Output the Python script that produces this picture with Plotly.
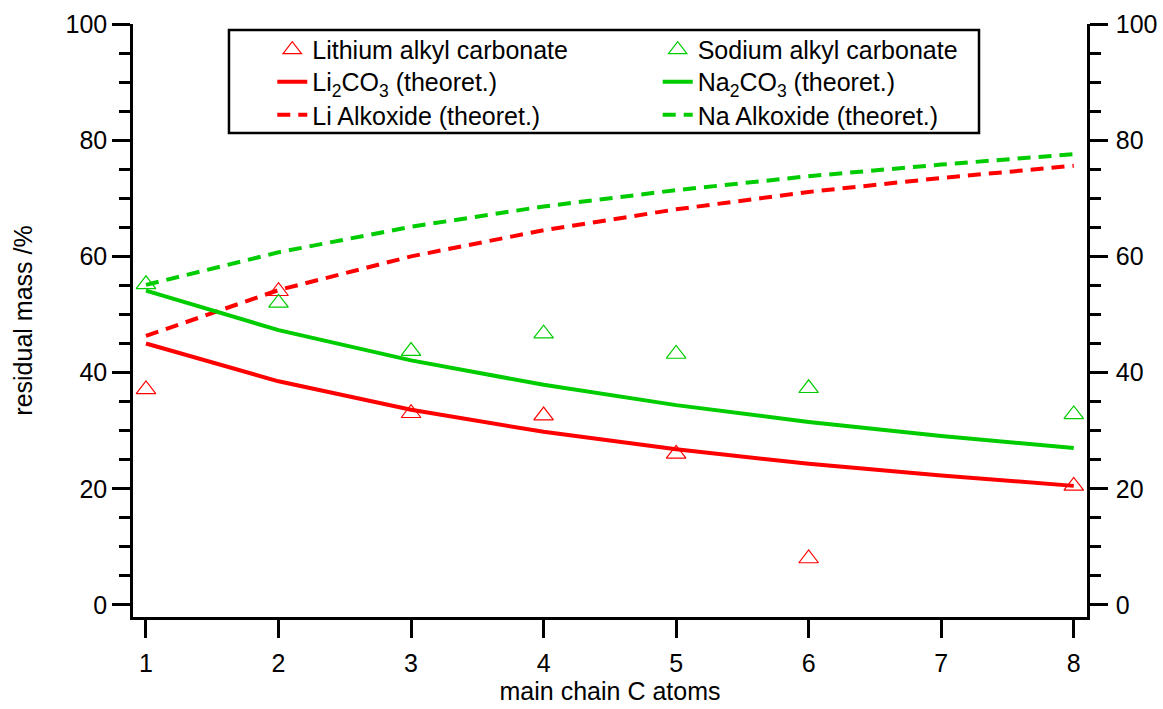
import plotly.graph_objects as go

# ---- data ----
x_meas = [1, 2, 3, 4, 5, 6, 8]
li_alkyl_carbonate = [37.1, 54.0, 33.0, 32.6, 26.0, 8.0, 20.5]
na_alkyl_carbonate = [55.2, 52.0, 43.7, 46.7, 43.2, 37.3, 32.8]

x_theo = [1, 2, 3, 4, 5, 6, 7, 8]
li2co3_theo = [45.0, 38.5, 33.6, 29.8, 26.8, 24.3, 22.3, 20.5]
na2co3_theo = [54.1, 47.3, 42.1, 37.9, 34.4, 31.5, 29.1, 27.0]
li_alkoxide_theo = [46.3, 54.2, 60.0, 64.5, 68.1, 71.1, 73.5, 75.6]
na_alkoxide_theo = [55.1, 60.7, 65.1, 68.6, 71.4, 73.8, 75.8, 77.6]

x_ticks = [1, 2, 3, 4, 5, 6, 7, 8]

RED = "#FF0000"
GREEN = "#00CC00"
FONT = "Liberation Sans, Arial, sans-serif"

fig = go.Figure()

fig.add_trace(go.Scatter(x=x_meas, y=li_alkyl_carbonate, mode="markers",
                         name="Lithium alkyl carbonate", legend="legend",
                         marker=dict(symbol="triangle-up-open", size=17, color=RED,
                                     line=dict(width=1.2, color=RED))))
fig.add_trace(go.Scatter(x=x_theo, y=li2co3_theo, mode="lines",
                         name="Li<sub>2</sub>CO<sub>3</sub> (theoret.)", legend="legend3",
                         line=dict(color=RED, width=4)))
fig.add_trace(go.Scatter(x=x_theo, y=li_alkoxide_theo, mode="lines",
                         name="Li Alkoxide (theoret.)", legend="legend5",
                         line=dict(color=RED, width=4, dash="13px,8px")))

fig.add_trace(go.Scatter(x=x_meas, y=na_alkyl_carbonate, mode="markers",
                         name="Sodium alkyl carbonate", legend="legend2",
                         marker=dict(symbol="triangle-up-open", size=17, color=GREEN,
                                     line=dict(width=1.2, color=GREEN))))
fig.add_trace(go.Scatter(x=x_theo, y=na2co3_theo, mode="lines",
                         name="Na<sub>2</sub>CO<sub>3</sub> (theoret.)", legend="legend4",
                         line=dict(color=GREEN, width=4)))
fig.add_trace(go.Scatter(x=x_theo, y=na_alkoxide_theo, mode="lines",
                         name="Na Alkoxide (theoret.)", legend="legend6",
                         line=dict(color=GREEN, width=4, dash="13px,8px")))

# empty trace to anchor the right-hand axis
fig.add_trace(go.Scatter(x=[], y=[], yaxis="y2", showlegend=False, hoverinfo="skip"))

axis_common = dict(
    showline=True, linecolor="black", linewidth=2.5,
    ticks="outside", ticklen=18, tickwidth=2.5, tickcolor="black",
    showgrid=False, zeroline=False, automargin=False,
    tickfont=dict(family=FONT, size=25, color="black"),
)

yrange = [-2.07, 100]


def legend_box(x, y):
    return dict(x=x, y=y, xanchor="left", yanchor="middle",
                bgcolor="rgba(0,0,0,0)", borderwidth=0,
                font=dict(family=FONT, size=25), itemwidth=30, tracegroupgap=0)


col1, col2 = 0.146, 0.550
row1, row2, row3 = 0.9562, 0.9022, 0.8465

fig.update_layout(
    width=1163, height=709,
    margin=dict(l=133, r=76, t=24, b=92, autoexpand=False),
    paper_bgcolor="white", plot_bgcolor="white",
    font=dict(family=FONT, color="black"),
    xaxis=dict(range=[0.902, 8.10], tickvals=x_ticks, ticklabelstandoff=4,
               title=dict(text="main chain C atoms", font=dict(family=FONT, size=25), standoff=4),
               **axis_common),
    yaxis=dict(range=yrange, tick0=0, dtick=20,
               minor=dict(dtick=5, ticks="outside", ticklen=11, tickwidth=2.5, tickcolor="black"),
               title=dict(text="residual mass /%", font=dict(family=FONT, size=25), standoff=26),
               **axis_common),
    yaxis2=dict(range=yrange, tick0=0, dtick=20, overlaying="y", side="right", anchor="x",
                ticklabelstandoff=3,
                minor=dict(dtick=5, ticks="outside", ticklen=11, tickwidth=2.5, tickcolor="black"),
                **axis_common),
    legend=legend_box(col1, row1),
    legend2=legend_box(col2, row1),
    legend3=legend_box(col1, row2),
    legend4=legend_box(col2, row2),
    legend5=legend_box(col1, row3),
    legend6=legend_box(col2, row3),
    shapes=[dict(type="rect", xref="paper", yref="paper",
                 x0=0.1006, x1=0.8868, y0=0.8162, y1=0.9899,
                 line=dict(color="black", width=2.5), fillcolor="rgba(0,0,0,0)")],
    showlegend=True,
)

fig.write_html("out.html")
